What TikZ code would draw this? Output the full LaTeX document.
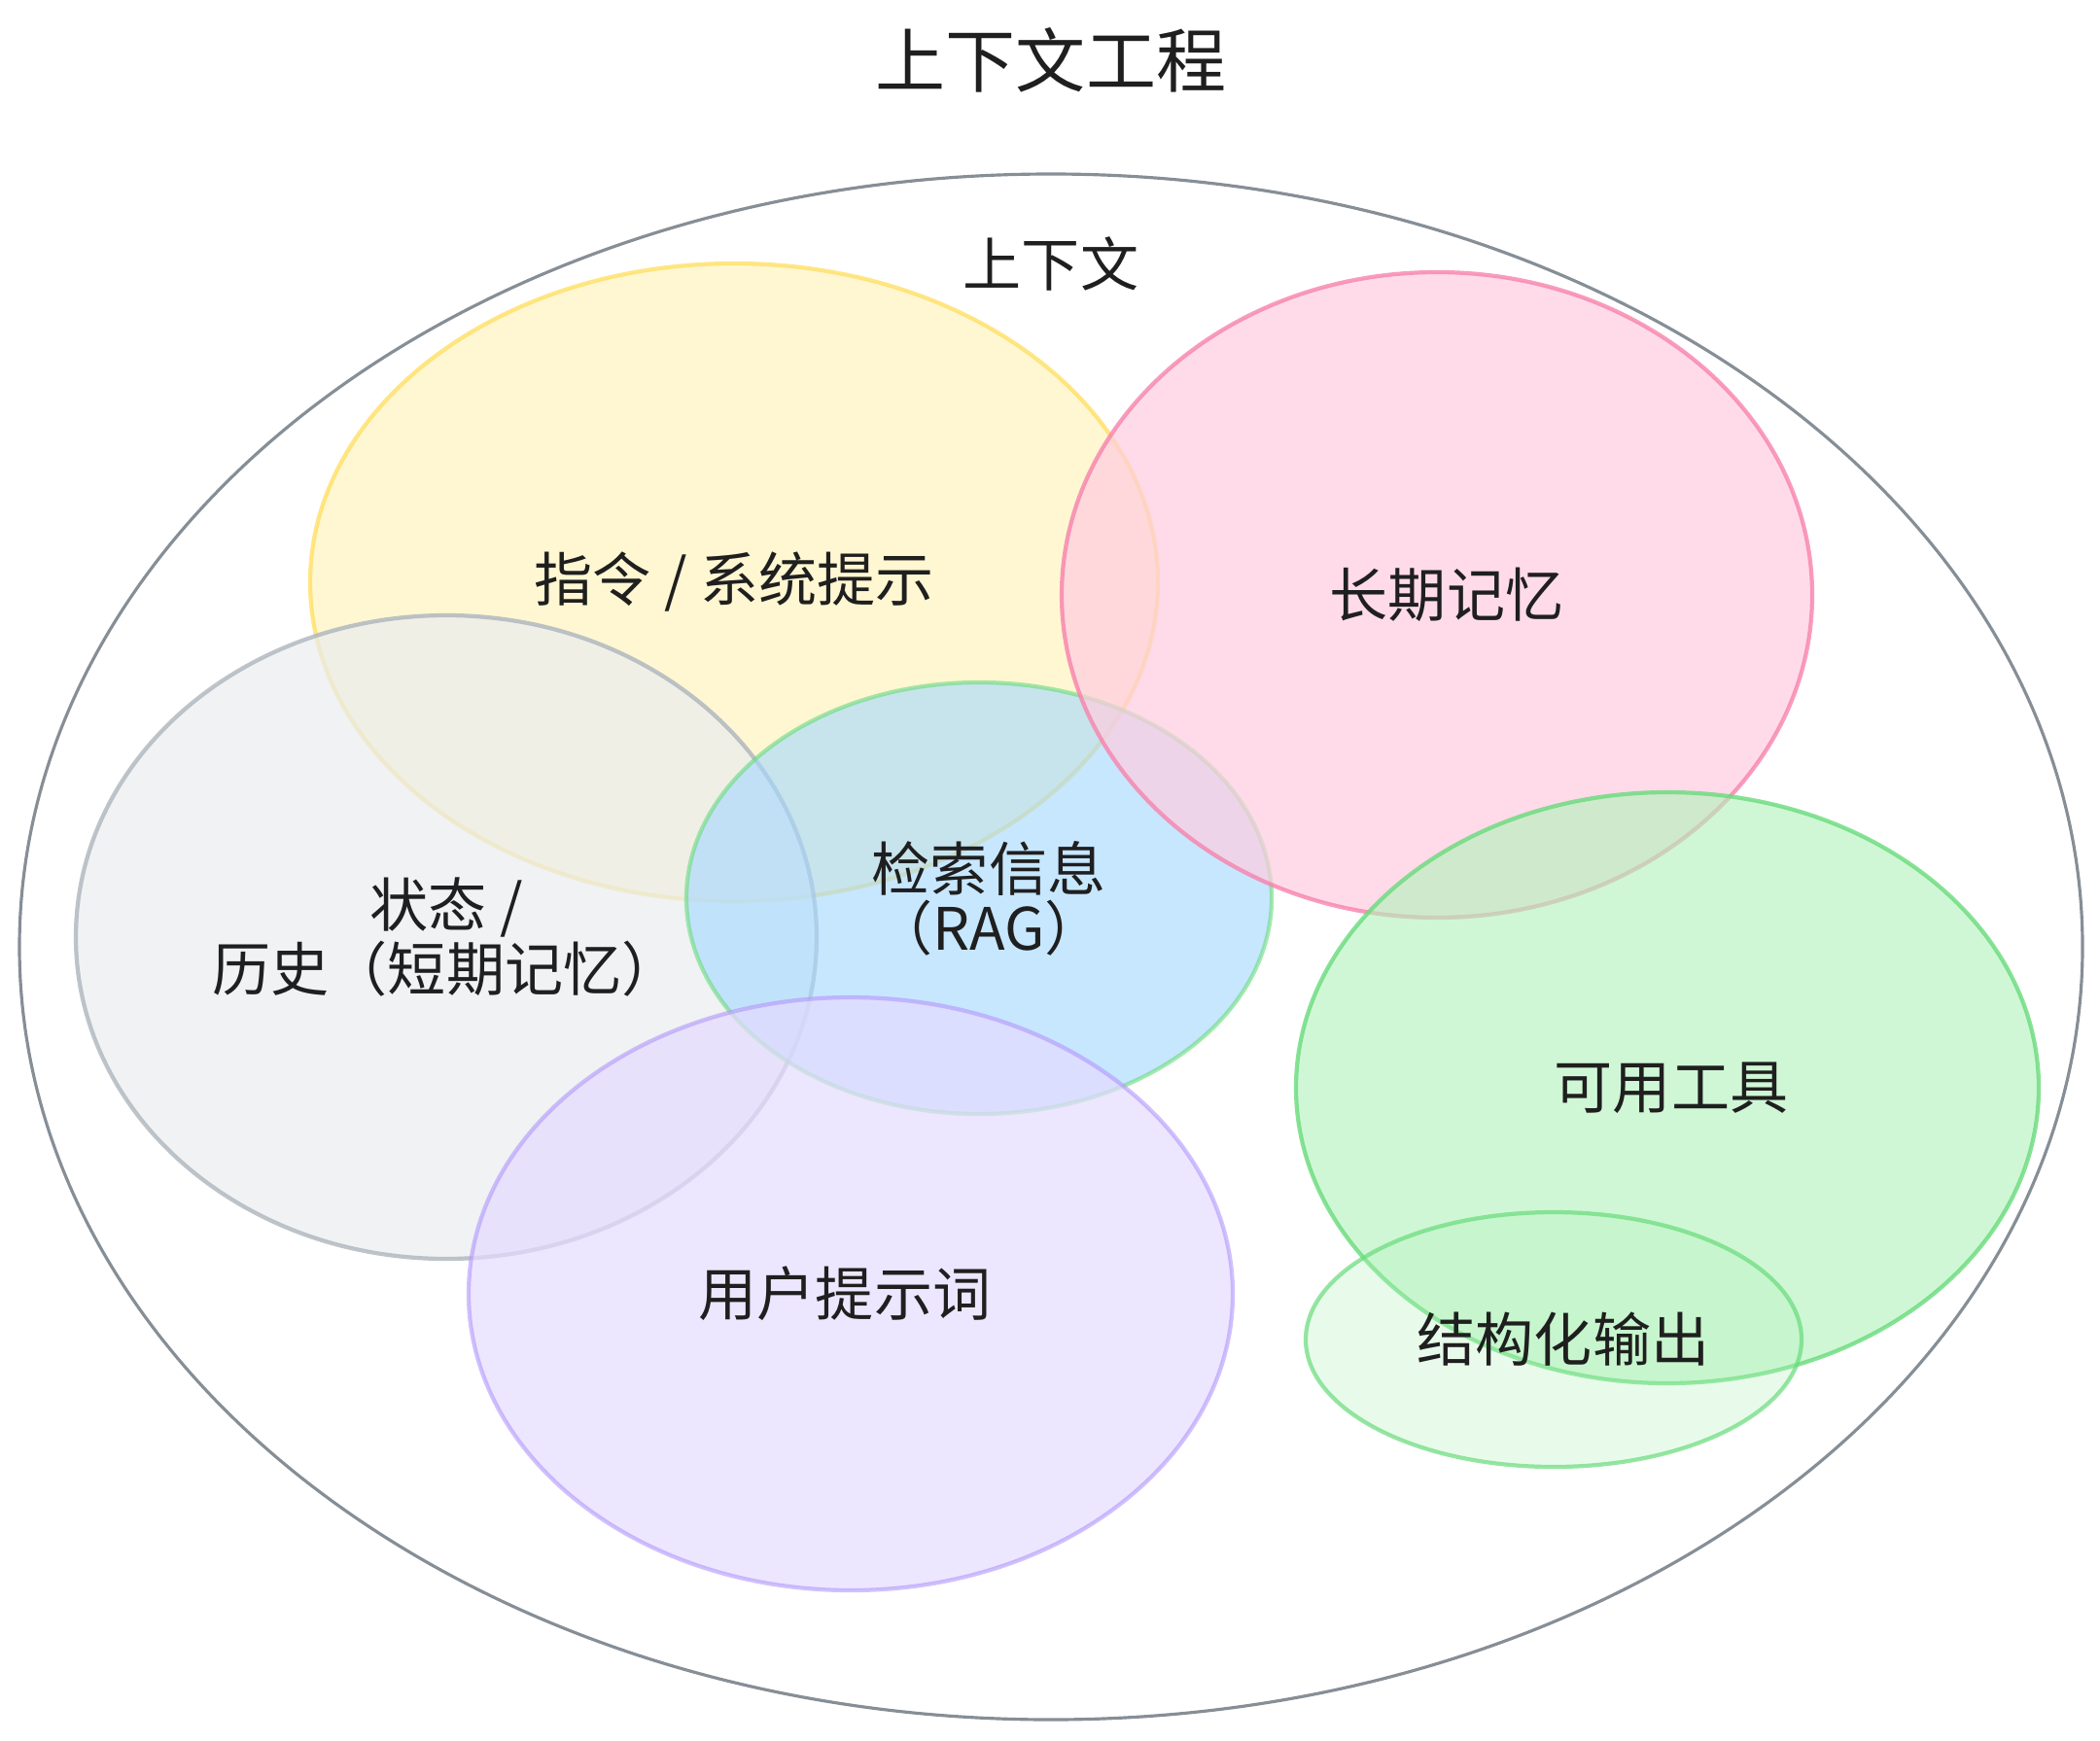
\documentclass[tikz,border=0pt]{standalone}
\usepackage{fontspec}
\setmainfont{Noto Sans CJK SC}
\usetikzlibrary{shapes.geometric}

\definecolor{ringline}{HTML}{868E96}
\definecolor{yelfill}{HTML}{FFF3BF}
\definecolor{yelline}{HTML}{FFE066}
\definecolor{pinkfill}{HTML}{FFCCE0}
\definecolor{pinkline}{HTML}{F783AC}
\definecolor{grayfill}{HTML}{E9ECEF}
\definecolor{grayline}{HTML}{ADB5BD}
\definecolor{bluefill}{HTML}{A5D8FF}
\definecolor{purpfill}{HTML}{E5DBFF}
\definecolor{purpline}{HTML}{B197FC}
\definecolor{grnfill}{HTML}{B2F2BB}
\definecolor{grnline}{HTML}{69DB7C}

\begin{document}
\begin{tikzpicture}[
      every node/.style={font=\fontsize{17.1}{17.4}\selectfont, text=black!88},
      blob/.style={ellipse, inner sep=0pt, align=center, line width=1.2pt,
                   fill opacity=0.7, draw opacity=0.8, text opacity=1},
      yelblob/.style={blob, draw=yelline, fill=yelfill},
      pinkblob/.style={blob, draw=pinkline, fill=pinkfill},
      grayblob/.style={blob, draw=grayline, fill=grayfill},
      blueblob/.style={blob, draw=grnline, draw opacity=0.6, fill=bluefill,
                   fill opacity=0.62},
      purpblob/.style={blob, draw=purpline, draw opacity=0.6, fill=purpfill},
      grnblob/.style={blob, draw=grnline, fill=grnfill, fill opacity=0.62},
      paleblob/.style={blob, draw=grnline, draw opacity=0.7, fill=grnfill,
                   fill opacity=0.3},
    ]
  \useasboundingbox (0,0) rectangle (21.6,-17.9);

  \node[font=\fontsize{20.5}{22}\selectfont] (title) at (10.81,-0.62) {上下文工程};

  \node[ellipse, draw=ringline, line width=0.9pt, inner sep=0pt,
        minimum width=21.22cm, minimum height=15.90cm] (ctx) at (10.81,-9.74) {};
  \node (ctxlabel) at (10.81,-2.71) {上下文};

  \node[yelblob, minimum width=8.72cm, minimum height=6.56cm] (instr)
    at (7.55,-5.99) {指令 / 系统提示};

  \node[grayblob, minimum width=7.62cm, minimum height=6.62cm] (hist)
    at (4.59,-9.64) {状态 /\\历史（短期记忆）};

  \node[blueblob, minimum width=6.02cm, minimum height=4.44cm] (rag)
    at (10.07,-9.24) {\hspace*{0.2cm}检索信息\\\hspace*{0.2cm}（RAG）};

  \node[pinkblob, minimum width=7.72cm, minimum height=6.64cm] (ltm)
    at (14.78,-6.12) {\hspace*{0.2cm}长期记忆};

  \node[purpblob, minimum width=7.86cm, minimum height=6.10cm] (user)
    at (8.75,-13.31) {用户提示词\hspace*{0.12cm}};

  \node[grnblob, minimum width=7.64cm, minimum height=6.08cm] (tools)
    at (17.15,-11.19) {\hspace*{0.08cm}可用工具};

  \node[paleblob, minimum width=5.10cm, minimum height=2.62cm] (struct)
    at (15.98,-13.78) {\hspace*{0.2cm}结构化输出};

\end{tikzpicture}
\end{document}
